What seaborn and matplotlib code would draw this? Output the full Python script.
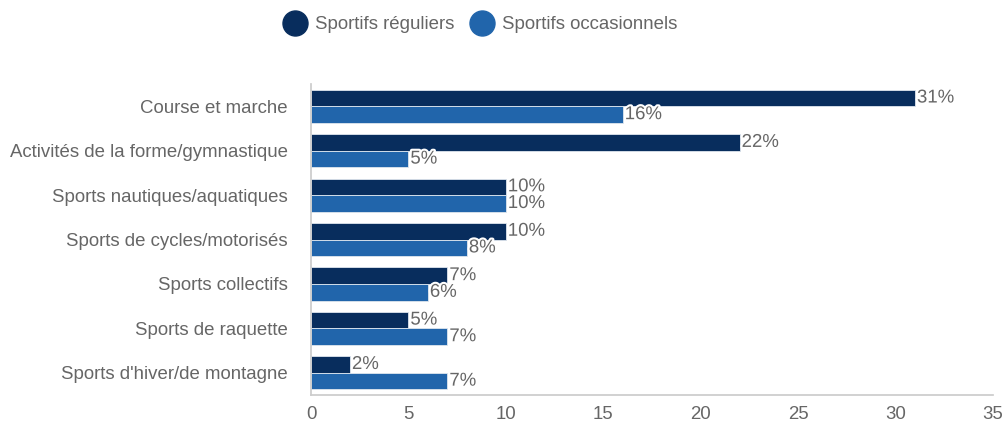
import matplotlib
matplotlib.use("Agg")
import matplotlib.pyplot as plt
import matplotlib.patheffects as pe
from matplotlib.lines import Line2D
import seaborn as sns
import pandas as pd

categories = ["Course et marche", "Activités de la forme/gymnastique", "Sports nautiques/aquatiques",
              "Sports de cycles/motorisés", "Sports collectifs", "Sports de raquette",
              "Sports d'hiver/de montagne"]
series_names = ["Sportifs réguliers", "Sportifs occasionnels"]
reguliers = [31, 22, 10, 10, 7, 5, 2]
occasionnels = [16, 5, 10, 8, 6, 7, 7]
x_ticks = [0, 5, 10, 15, 20, 25, 30, 35]
colors = ["#082d5d", "#2165ab"]

df = pd.DataFrame({
    "cat": categories * 2,
    "serie": [series_names[0]] * len(categories) + [series_names[1]] * len(categories),
    "val": reguliers + occasionnels,
})

sns.set_theme(style="white")
plt.rcParams["font.family"] = ["Liberation Sans", "DejaVu Sans"]
txt = "#666666"
grid = "#e0e0e0"
fs = 13.4

fig = plt.figure(figsize=(10.02, 4.36), dpi=100)
ax = fig.add_axes([0.3104, 0.094, 0.9910 - 0.3104, 0.807 - 0.094])
sns.barplot(data=df, y="cat", x="val", hue="serie", order=categories, hue_order=series_names,
            palette=colors, orient="h", width=0.75, ax=ax, legend=False,
            edgecolor="#dfe6ee", linewidth=0.6, saturation=1)

ax.set_xlim(0, 35)
ax.set_xticks(x_ticks)
ax.set_ylim(len(categories) - 0.5, -0.5)
ax.set_xlabel("")
ax.set_ylabel("")
ax.grid(False)
for s in ["top", "right"]:
    ax.spines[s].set_visible(False)
ax.spines["left"].set_color("#cccccc")
ax.spines["bottom"].set_color("#cccccc")
ax.tick_params(axis="x", colors=txt, labelsize=fs, length=7, color=grid, pad=1)
ax.tick_params(axis="y", which="major", colors=txt, labelsize=fs, length=0, pad=16.5)
ax.set_yticks([i + 0.5 for i in range(-1, len(categories))], minor=True)
ax.tick_params(axis="y", which="minor", length=13, color=grid)

for cont in ax.containers:
    for bar in cont:
        w = bar.get_width()
        ax.text(w + 0.1, bar.get_y() + bar.get_height() / 2, f"{w:.0f}%",
                va="center", ha="left", fontsize=fs, color=txt,
                path_effects=[pe.withStroke(linewidth=3, foreground="white")])

handles = [Line2D([0], [0], marker="o", linestyle="", markersize=18,
                  markerfacecolor=c, markeredgecolor=c) for c in colors]
fig.legend(handles, series_names, loc="center", bbox_to_anchor=(0.476, 0.943), ncol=2,
           frameon=False, fontsize=fs, labelcolor=txt, handletextpad=0.05, columnspacing=0.5)

fig.savefig("out.png", dpi=100)
